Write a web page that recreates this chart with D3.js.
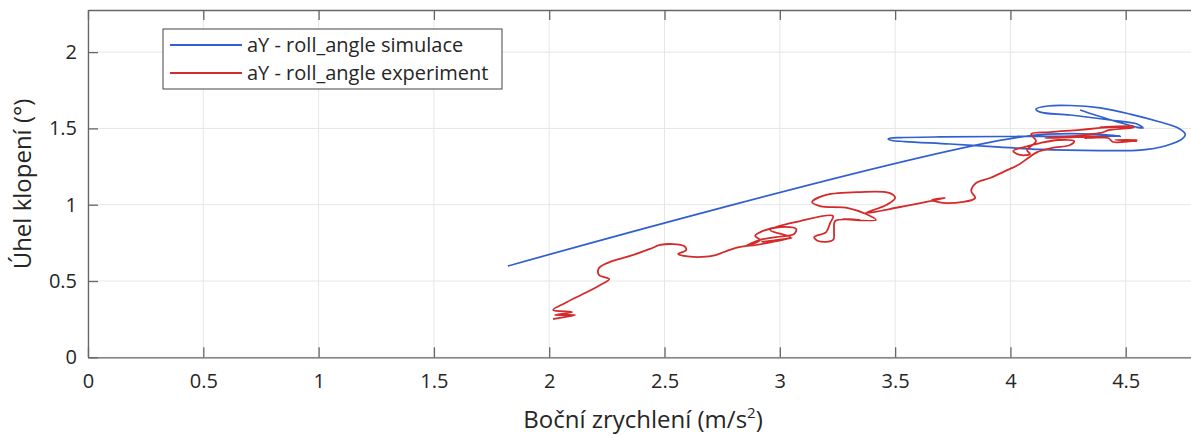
<!DOCTYPE html>
<html>
<head>
<meta charset="utf-8">
<script src="https://cdn.jsdelivr.net/npm/d3@7"></script>
<style>
  body { margin: 0; background: #fff; }
  text { font-family: "Open Sans", "Noto Sans", sans-serif; fill: #262626; }
</style>
</head>
<body>
<div id="chart"></div>
<script>
// ticks
var xTicks = [0, 0.5, 1, 1.5, 2, 2.5, 3, 3.5, 4, 4.5];
var yTicks = [0, 0.5, 1, 1.5, 2];

// simulation: lateral accel (m/s2) vs roll angle (deg)
var simX = [1.821, 4.072, 4.476, 3.955, 3.695, 3.522, 3.483, 3.470, 3.487, 3.543, 3.738, 3.955, 4.129, 4.389, 4.562, 4.671, 4.745, 4.758, 4.727, 4.649, 4.519, 4.389, 4.259, 4.163, 4.111, 4.129, 4.259, 4.432, 4.549, 4.575, 4.545, 4.454, 4.367, 4.302];
var simY = [0.598, 1.450, 1.450, 1.447, 1.444, 1.440, 1.437, 1.431, 1.421, 1.414, 1.398, 1.378, 1.362, 1.355, 1.358, 1.385, 1.431, 1.463, 1.503, 1.542, 1.594, 1.634, 1.650, 1.647, 1.627, 1.607, 1.588, 1.555, 1.529, 1.503, 1.509, 1.548, 1.588, 1.621];

// experiment
var expX = [2.017, 2.112, 2.025, 2.099, 2.017, 2.069, 2.155, 2.221, 2.260, 2.216, 2.216, 2.264, 2.351, 2.437, 2.481, 2.537, 2.585, 2.594, 2.559, 2.585,
  2.641, 2.706, 2.758, 2.806, 2.871, 2.914, 2.893, 2.927, 3.001, 3.071, 3.062, 2.984, 2.914, 2.854, 3.053, 2.923, 3.045, 2.958, 3.088, 3.231,
  3.218, 3.201, 3.149, 3.166, 3.231, 3.235, 3.240, 3.348, 3.274, 3.417, 3.374, 3.296, 3.175, 3.140, 3.201, 3.348, 3.474, 3.500, 3.461, 3.374,
  3.522, 3.652, 3.717, 3.660, 3.725, 3.847, 3.830, 3.851, 3.912, 3.986, 4.033, 4.077, 4.116, 4.181, 4.259, 4.276, 4.207, 4.129, 4.059, 4.012,
  4.042, 4.085, 4.072, 4.111, 4.090, 4.172, 4.302, 4.389, 4.536, 4.389, 4.536, 4.432, 4.389, 4.281, 4.150, 4.324, 4.419, 4.324, 4.424, 4.445,
  4.549, 4.454, 4.549];
var expY = [0.251, 0.277, 0.277, 0.297, 0.310, 0.356, 0.421, 0.474, 0.513, 0.539, 0.585, 0.625, 0.664, 0.710, 0.736, 0.742, 0.729, 0.703, 0.677, 0.664,
  0.657, 0.664, 0.690, 0.716, 0.736, 0.769, 0.795, 0.828, 0.854, 0.841, 0.808, 0.788, 0.769, 0.729, 0.782, 0.756, 0.788, 0.834, 0.893, 0.926,
  0.880, 0.821, 0.788, 0.762, 0.769, 0.834, 0.893, 0.900, 0.906, 0.900, 0.939, 0.978, 0.991, 1.018, 1.064, 1.083, 1.077, 1.044, 0.998, 0.946,
  0.985, 1.024, 1.044, 1.031, 1.011, 1.044, 1.090, 1.142, 1.175, 1.227, 1.260, 1.306, 1.345, 1.372, 1.391, 1.417, 1.424, 1.404, 1.378, 1.352,
  1.326, 1.332, 1.358, 1.417, 1.463, 1.476, 1.490, 1.503, 1.516, 1.509, 1.506, 1.490, 1.470, 1.450, 1.437, 1.444, 1.444, 1.437, 1.437, 1.411,
  1.424, 1.424, 1.417];

var W = 1191, H = 436;
var m = { left: 88, top: 10 };
var pw = 1103, ph = 347.3;

var svg = d3.select('#chart').append('svg')
  .attr('width', W).attr('height', H);

var x = d3.scaleLinear().domain([0, 4.783]).range([0, pw]);
var y = d3.scaleLinear().domain([0, 2.276]).range([ph, 0]);

var g = svg.append('g').attr('transform', 'translate(' + m.left + ',' + m.top + ')');

// grid
g.selectAll('.gx').data(xTicks).enter().append('line')
  .attr('x1', function(d) { return x(d); }).attr('x2', function(d) { return x(d); })
  .attr('y1', 0).attr('y2', ph)
  .attr('stroke', '#e6e6e6').attr('stroke-width', 1);
g.selectAll('.gy').data(yTicks).enter().append('line')
  .attr('x1', 0).attr('x2', pw)
  .attr('y1', function(d) { return y(d); }).attr('y2', function(d) { return y(d); })
  .attr('stroke', '#e6e6e6').attr('stroke-width', 1);

var line = d3.line()
  .x(function(d) { return x(d[0]); })
  .y(function(d) { return y(d[1]); })
  .curve(d3.curveCatmullRom.alpha(0.5));

var simPts = simX.map(function(v, i) { return [v, simY[i]]; });
var expPts = expX.map(function(v, i) { return [v, expY[i]]; });

g.append('path').datum(simPts)
  .attr('d', line).attr('fill', 'none')
  .attr('stroke', '#2f5fd0').attr('stroke-width', 1.7);
g.append('path').datum(expPts)
  .attr('d', line).attr('fill', 'none')
  .attr('stroke', '#d42a2a').attr('stroke-width', 1.8);

// axes
var axCol = '#666';
var xAx = g.append('g').attr('transform', 'translate(0,' + ph + ')')
  .call(d3.axisBottom(x).tickValues(xTicks).tickSizeInner(-10).tickSizeOuter(0)
    .tickFormat(d3.format('~g')));
var xTop = g.append('g')
  .call(d3.axisTop(x).tickValues(xTicks).tickSizeInner(-10).tickSizeOuter(0)
    .tickFormat(''));
var yAx = g.append('g')
  .call(d3.axisLeft(y).tickValues(yTicks).tickSizeInner(-10).tickSizeOuter(0)
    .tickFormat(d3.format('~g')));

[xAx, xTop, yAx].forEach(function(a) {
  a.select('.domain').attr('stroke', axCol).attr('stroke-width', 1.3);
  a.selectAll('.tick line').attr('stroke', axCol).attr('stroke-width', 1.3);
  a.selectAll('.tick text').attr('font-size', 20)
    .attr('font-family', '"Open Sans", "Noto Sans", sans-serif').attr('fill', '#262626');
});
xAx.selectAll('.tick text').attr('y', 17);
yAx.selectAll('.tick text').attr('x', -11);

// axis labels
var xl = svg.append('text')
  .attr('x', 643).attr('y', 428)
  .attr('text-anchor', 'middle').attr('font-size', 24);
xl.append('tspan').text('Boční zrychlení (m/s');
xl.append('tspan').attr('font-size', 15).attr('dy', -10).text('2');
xl.append('tspan').attr('dy', 10).text(')');

svg.append('text')
  .attr('transform', 'translate(31,' + 184 + ') rotate(-90)')
  .attr('text-anchor', 'middle').attr('font-size', 24)
  .text('Úhel klopení (°)');

// legend
var leg = svg.append('g');
leg.append('rect').attr('x', 163).attr('y', 29).attr('width', 339).attr('height', 60)
  .attr('fill', '#fff').attr('stroke', '#444').attr('stroke-width', 1);
var items = [['aY - roll_angle simulace', '#2f5fd0', 45], ['aY - roll_angle experiment', '#d42a2a', 73]];
items.forEach(function(it) {
  leg.append('line').attr('x1', 170).attr('x2', 242).attr('y1', it[2]).attr('y2', it[2])
    .attr('stroke', it[1]).attr('stroke-width', 1.8);
  leg.append('text').attr('x', 247).attr('y', it[2] + 7).attr('font-size', 20).text(it[0]);
});
</script>
</body>
</html>
